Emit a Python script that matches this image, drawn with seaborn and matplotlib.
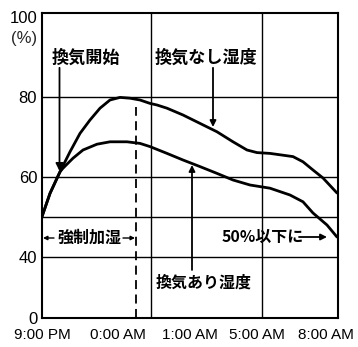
import numpy as np
import pandas as pd
import matplotlib
matplotlib.use("Agg")
import matplotlib.pyplot as plt
import seaborn as sns

# posiciones horizontales (escala del dibujo) y humedad relativa (%)
pos_sin = [0, 8, 18, 28, 38, 48, 58, 68, 78, 88, 98, 108, 115, 125, 141, 158, 175, 191, 205, 215, 228, 251, 261, 271, 281, 295]
hum_sin = [50.1, 55.9, 61.3, 66.3, 70.9, 74.25, 77.2, 79.25, 79.9, 79.7, 79.25, 78.4, 78.0, 77.2, 75.5, 73.4, 71.3,
           68.8, 66.75, 66.1, 65.9, 65.1, 63.8, 61.75, 59.75, 56.0]

pos_con = [0, 8, 18, 21, 31, 41, 55, 68, 85, 98, 108, 125, 141, 158, 175, 191, 208, 228, 248, 261, 271, 285, 295]
hum_con = [50.1, 55.9, 61.3, 62.2, 64.7, 66.75, 68.2, 68.8, 68.8, 68.4, 67.6, 65.9, 64.25, 62.6, 60.9, 59.25, 58.0,
           57.2, 55.5, 53.8, 51.0, 48.0, 45.0]

series = ["換気なし湿度", "換気あり湿度"]
hora_pos = [0, 76, 148, 215, 284]
hora_lbl = ["9:00 PM", "0:00 AM", "1:00 AM", "5:00 AM", "8:00 AM"]
y_ticks = [0, 40, 60, 80, 100]
y_grid = [40, 50, 60, 80]
v_grid = [109, 220]
fin_humidificacion = 94

df = pd.concat([
    pd.DataFrame({"pos": pos_sin, "hum": hum_sin, "serie": series[0]}),
    pd.DataFrame({"pos": pos_con, "hum": hum_con, "serie": series[1]}),
])

sns.set_theme(style="white")
plt.rcParams["font.family"] = ["Noto Sans CJK JP", "DejaVu Sans"]
JP = dict(fontfamily=["Noto Sans CJK JP", "DejaVu Sans"], fontweight="bold", fontsize=11.5, color="black")
JP_big = dict(JP, fontsize=12.3)


# eje Y partido: 0-40 comprimido
def fwd(y):
    y = np.asarray(y, dtype=float)
    return np.where(y >= 40, y, 24.75 + y * 15.25 / 40)


def inv(t):
    t = np.asarray(t, dtype=float)
    return np.where(t >= 40, t, (t - 24.75) * 40 / 15.25)


fig = plt.figure(figsize=(3.58, 3.47), dpi=100)
ax = fig.add_axes([42 / 358, 29 / 347, 296 / 358, 305 / 347])
ax.set_yscale("function", functions=(fwd, inv))

sns.lineplot(data=df, x="pos", y="hum", hue="serie", palette=["black", "black"],
             legend=False, linewidth=2.0, ax=ax)
for ln in ax.lines:
    ln.set_solid_joinstyle("round")
    ln.set_solid_capstyle("round")

ax.set_xlim(0, 296)
ax.set_ylim(0, 101)
ax.grid(False)
for v in y_grid:
    ax.axhline(v, color="black", lw=1.0, zorder=1)
for v in v_grid:
    ax.axvline(v, color="black", lw=1.0, zorder=1)
ax.vlines(fin_humidificacion, 0, 77.5, colors="black", lw=1.3, linestyles=(0, (5, 3)))

for s in ax.spines.values():
    s.set_color("black")
    s.set_linewidth(1.5)

ax.set_xticks(hora_pos)
ax.set_xticklabels(hora_lbl, fontfamily="Liberation Sans", fontsize=11)
ax.set_yticks(y_ticks)
ax.set_yticklabels([str(v) for v in y_ticks], fontfamily="Liberation Sans", fontsize=12)
ax.tick_params(axis="x", length=0, pad=7, colors="black")
ax.tick_params(axis="y", length=0, pad=3.5, colors="black")
ax.set_xlabel("")
ax.set_ylabel("")
ax.text(-5, 94.75, "(%)", ha="right", va="center", fontfamily="Liberation Sans", fontsize=12)

arrow = dict(arrowstyle="-|>", lw=1.3, color="black", mutation_scale=9, shrinkA=0, shrinkB=0)

ax.text(44, 89.75, "換気開始", ha="center", va="center", **JP_big)
ax.annotate("", xy=(17.5, 61.5), xytext=(17.5, 87.3),
            arrowprops=dict(arrow, mutation_scale=11))

ax.text(164, 89.75, "換気なし湿度", ha="center", va="center", **JP_big)
ax.annotate("", xy=(171, 72.5), xytext=(171, 87.3), arrowprops=arrow)

ax.text(161.5, 23.0, "換気あり湿度", ha="center", va="center", **JP)
ax.annotate("", xy=(150, 63.0), xytext=(150, 31.5), arrowprops=arrow)

ax.text(47, 44.75, "強制加湿", ha="center", va="center", **JP)
small = dict(arrowstyle="-|>", lw=1.0, color="black", mutation_scale=6, shrinkA=0, shrinkB=0)
ax.annotate("", xy=(1, 44.75), xytext=(12, 44.75), arrowprops=small)
ax.annotate("", xy=(93, 44.75), xytext=(81, 44.75), arrowprops=small)

ax.text(180, 45.0, "50%以下に", ha="left", va="center", **JP)
ax.annotate("", xy=(285, 45.0), xytext=(257, 45.0), arrowprops=arrow)

fig.savefig("out.png", dpi=100, facecolor="white")
